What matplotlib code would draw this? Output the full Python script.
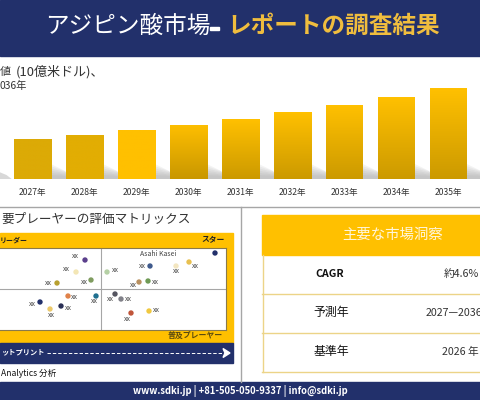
import numpy as np
import matplotlib
matplotlib.use('Agg')
import matplotlib.pyplot as plt
from matplotlib.patches import Rectangle, Polygon

plt.rcParams['font.family'] = ['Noto Sans CJK JP', 'DejaVu Sans']

NAVY = '#22306b'
GOLD = '#ffc000'

# 棒グラフのデータ (ピクセルから読み取り)
years = [2027, 2028, 2029, 2030, 2031, 2032, 2033, 2034, 2035]
values = [40, 44, 49, 54, 60, 67, 74, 82, 91]
bar_top = ['#dcaa06', '#e2ad03', '#ffc000', '#fdbe00', '#ffc000', '#ffc000', '#ffc000', '#ffc000', '#ffc000']
bar_bottom = ['#dcaa06', '#e2ad03', '#ffc000', '#c99700', '#cc9a00', '#cc9a00', '#cc9a00', '#cc9a00', '#cc9a00']

# 評価マトリックスの点
px = [85, 76, 91, 57, 68, 96, 40, 50, 61, 107, 150, 176, 189, 215, 139, 148, 115, 121, 131, 149]
py = [70, 58, 50, 47, 34, 34, 28, 21, 24, 58, 64, 64, 68, 77, 48, 49, 36, 31, 17, 19]
pcolor = ['#5b3f8c', '#f3e6b5', '#7f9c5f', '#b8a030', '#e0824a', '#1f6f8f', '#22306b', '#ecc96a', '#2a2f55',
          '#b5d0a5', '#3f5a8c', '#f3e6c0', '#e8c050', '#22306b', '#b89060', '#6f9a55', '#555560', '#808088',
          '#c0553a', '#f0c840']
plabel = ['xx'] * 13 + ['Asahi Kasei'] + ['xx'] * 6
label_dx = [-10, -10, -7, -9, 6, -2, -8, 1, 7, 8, -8, 0, 6, -57, -6, 7, -5, 7, -4, 7]
label_dy = [4, 3, -2, 0, -1, -5, -2, -6, -2, 2, 0, -5, -4, -1, -3, -1, -5, 0, -6, 1]

# 表
rows = ['CAGR', '予測年', '基準年']
row_values = ['約4.6%', '2027—2036年', '2026 年']

fig = plt.figure(figsize=(4.8, 4.0), dpi=100)
bg = fig.add_axes([0, 0, 1, 1])
bg.set_xlim(0, 480)
bg.set_ylim(400, 0)
bg.axis('off')

# ヘッダーとフッター
bg.add_patch(Rectangle((0, 0), 480, 55.5, color=NAVY))
bg.add_patch(Rectangle((0, 382), 480, 18, color=NAVY))
bg.text(210, 26, 'アジピン酸市場', color='white', fontsize=17, ha='right', va='center')
bg.add_patch(Rectangle((210, 27), 9, 2.5, color='white'))
bg.text(227, 26, 'レポートの調査結果', color='#f0bd3e', fontsize=17, fontweight='bold', ha='left', va='center')
bg.text(240, 391, 'www.sdki.jp | +81-505-050-9337 | info@sdki.jp', color='white', fontsize=6.8,
        fontweight='bold', ha='center', va='center')

# 小見出し
bg.text(0, 72, '値', color='#333333', fontsize=8, ha='left', va='center')
bg.text(16, 72, '(10億米ドル)、', color='#333333', fontsize=9.4, ha='left', va='center')
bg.text(27, 86, '036年', color='#333333', fontsize=7.4, ha='right', va='center')

# 区切り線
bg.plot([0, 480], [206.5, 206.5], color='#a6a6a6', lw=1)
bg.plot([240.5, 240.5], [206.5, 382], color='#a6a6a6', lw=1)

# 棒グラフ
ax = fig.add_axes([0, 1 - 179 / 400, 1, 179 / 400 - 55.5 / 400])
ax.axis('off')
bar_w = 37 / 52
# 影
for y, v in zip(years, values):
    for k in range(6):
        h = 4 + k * 2.2
        ax.add_patch(Polygon([(y + bar_w / 2, 0), (y + bar_w / 2, h), (y + 0.62 + 0.05 * (5 - k), h * 0.55), (y + 0.75, 0)],
                             color='#808080', alpha=0.09, lw=0))
ax.add_patch(Polygon([(2026.36, 0), (2026.36, 7), (2026.5, 4), (2026.6, 0)], color='#808080', alpha=0.3, lw=0))
for y, v, c1, c2 in zip(years, values, bar_top, bar_bottom):
    rgb1 = np.array(matplotlib.colors.to_rgb(c1))
    rgb2 = np.array(matplotlib.colors.to_rgb(c2))
    t = np.linspace(0, 1, 64)[:, None]
    grad = (rgb1 * (1 - t) + rgb2 * t)[:, None, :]
    ax.imshow(grad, extent=(y - bar_w / 2, y + bar_w / 2, 0, v), aspect='auto', origin='upper', zorder=3)
    ax.text(y, -14, f'{y}年', color='#333333', fontsize=6.2, ha='center', va='center', clip_on=False)
ax.set_xlim(2027 - 32.5 / 52, 2027 + (480 - 32.5) / 52)
ax.set_ylim(0, 123.5)

# 評価マトリックス
bg.add_patch(Rectangle((0, 233), 233, 110, color=GOLD))
bg.add_patch(Rectangle((0, 343), 233, 20, color=NAVY))
bg.text(191, 219, '要プレーヤーの評価マトリックス', color='#333333', fontsize=9.1, ha='right', va='center')
bg.text(28, 240, 'リーダー', color='#222222', fontsize=5, fontweight='bold', ha='right', va='center')
bg.text(225, 240, 'スター', color='#222222', fontsize=5.6, fontweight='bold', ha='right', va='center')
bg.text(223, 335, '普及プレーヤー', color='#5a4a10', fontsize=5.7, fontweight='bold', ha='right', va='center')
bg.text(45, 352, 'ットプリント', color='white', fontsize=5.2, fontweight='bold', ha='right', va='center')
bg.plot([47, 224], [353, 353], color='white', lw=0.7, ls=(0, (3.5, 2)))
bg.add_patch(Polygon([(223, 348.5), (230, 353), (223, 357.5), (225, 353)], color='white'))
bg.text(56, 373, 'Analytics 分析', color='#111111', fontsize=6.2, style='italic', ha='right', va='center')

mx = fig.add_axes([0, 1 - 330 / 400, 226 / 480, (330 - 247.5) / 400])
mx.set_xlim(0, 226)
mx.set_ylim(0, 82.5)
mx.set_xticks([])
mx.set_yticks([])
for s in mx.spines.values():
    s.set_color('#8a7a4a')
    s.set_linewidth(0.8)
mx.spines['left'].set_visible(False)
mx.axvline(100.5, color='#a6a6a6', lw=0.8)
mx.axhline(41, color='#a6a6a6', lw=0.8)
mx.scatter(px, py, s=15, c=pcolor, linewidths=0, zorder=3)
for x, y, lab, dx, dy in zip(px, py, plabel, label_dx, label_dy):
    mx.annotate(lab, (x, y), xytext=(dx * 0.72, dy * 0.72), textcoords='offset points',
                fontsize=5, color='#444444', ha='center', va='center')

# 表
bg.add_patch(Rectangle((262, 215), 218, 40, color=GOLD))
bg.text(393, 235, '主要な市場洞察', color='#fff6dc', fontsize=10.4, ha='center', va='center')
for y in [293.5, 332.5, 371.5]:
    bg.plot([262, 480], [y, y], color='#ecd488', lw=1)
bg.plot([262.5, 262.5], [255, 371.5], color='#ecd488', lw=1)
for i, (r, val) in enumerate(zip(rows, row_values)):
    yy = 274 + i * 38.8
    if i == 0:
        bg.text(330, yy, r, color='#111111', fontsize=7.6, fontweight='bold', ha='center', va='center')
    else:
        bg.text(331, yy, r, color='#111111', fontsize=8.6, ha='center', va='center')
    if i == 1:
        bg.text(426, yy, val, color='#333333', fontsize=7.7, ha='left', va='center')
    else:
        bg.text(479, yy, val, color='#333333', fontsize=7.7, ha='right', va='center')

fig.savefig('out.png', dpi=100)
